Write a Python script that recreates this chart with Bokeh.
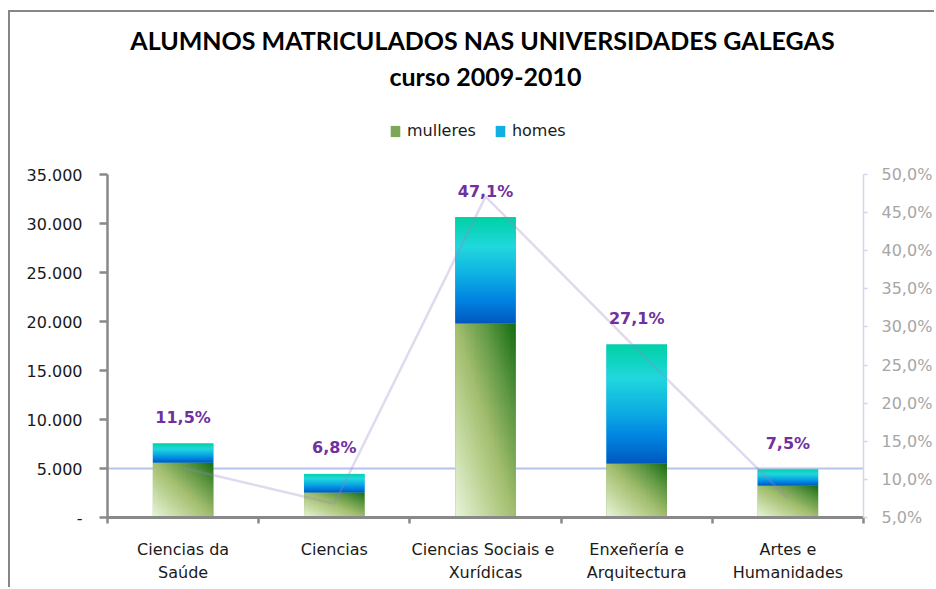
import numpy as np
from bokeh.plotting import figure
from bokeh.models import (Range1d, LinearAxis, FixedTicker, Span, Legend, LegendItem,
                          Title, CustomJSTickFormatter, ColumnDataSource)
from bokeh.embed import file_html
from bokeh.resources import INLINE
from bokeh.core.properties import value

# ---------------- data ----------------
categories = ["Ciencias da Saúde", "Ciencias", "Ciencias Sociais e Xurídicas",
              "Enxeñería e Arquitectura", "Artes e Humanidades"]
label_line1 = ["Ciencias da", "Ciencias", "Ciencias Sociais  e", "Enxeñería e", "Artes e"]
label_line2 = ["Saúde", "", "Xurídicas", "Arquitectura", "Humanidades"]
mulleres = [5600, 2550, 19800, 5500, 3250]
homes = [1950, 1900, 10850, 12150, 1650]
percent = [11.5, 6.8, 47.1, 27.1, 7.5]
percent_labels = ["11,5%", "6,8%", "47,1%", "27,1%", "7,5%"]
left_ticks = [0, 5000, 10000, 15000, 20000, 25000, 30000, 35000]
left_tick_labels = ["-", "5.000", "10.000", "15.000", "20.000", "25.000", "30.000", "35.000"]
right_ticks = [5, 10, 15, 20, 25, 30, 35, 40, 45, 50]
right_tick_labels = ["5,0%", "10,0%", "15,0%", "20,0%", "25,0%", "30,0%", "35,0%",
                     "40,0%", "45,0%", "50,0%"]
title_line1 = "ALUMNOS MATRICULADOS NAS UNIVERSIDADES  GALEGAS"
title_line2 = "curso 2009-2010"

n = len(categories)
centers = [i + 0.5 for i in range(n)]
totals = [m + h for m, h in zip(mulleres, homes)]
BAR_W = 0.4

FONT = "DejaVu Sans"
TFONT = "Lato"

# layout: the plotting frame is taller than the value axes so the legend fits in it
FRAME_TOP, FRAME_BOTTOM, AXIS_TOP = 80, 505, 162
frame_h = FRAME_BOTTOM - FRAME_TOP
axis_h = FRAME_BOTTOM - AXIS_TOP
left_lo, left_hi = left_ticks[0], left_ticks[-1]
right_lo, right_hi = right_ticks[0], right_ticks[-1]
left_end = left_lo + (left_hi - left_lo) * frame_h / axis_h
right_end = right_lo + (right_hi - right_lo) * frame_h / axis_h

# ---------------- gradient images ----------------
def pack(rgb):
    h, w, _ = rgb.shape
    img = np.empty((h, w), dtype=np.uint32)
    v = img.view(dtype=np.uint8).reshape((h, w, 4))
    v[:, :, :3] = np.clip(rgb, 0, 255).astype(np.uint8)
    v[:, :, 3] = 255
    return img

def interp(t, stops):
    pos = [s[0] for s in stops]
    out = np.zeros(t.shape + (3,))
    for c in range(3):
        out[..., c] = np.interp(t, pos, [s[1][c] for s in stops])
    return out

green_stops = [(0.0, (232, 245, 218)), (0.30, (190, 212, 150)), (0.5, (162, 190, 110)),
               (0.75, (95, 152, 68)), (1.0, (20, 108, 18))]
blue_stops = [(0.0, (0, 88, 192)), (0.22, (0, 132, 226)), (0.45, (14, 176, 226)),
              (0.72, (34, 216, 222)), (1.0, (0, 210, 165))]

GW, GH = 48, 200
uu, vv = np.meshgrid(np.linspace(0, 1, GW), np.linspace(0, 1, GH))
green_img = pack(interp((uu + vv) / 2.0, green_stops))
blue_img = pack(interp(vv, blue_stops))

# ---------------- figure ----------------
p = figure(width=926, height=577, x_range=Range1d(0, n), y_range=Range1d(left_lo, left_end),
           output_backend="svg", toolbar_location=None,
           min_border_left=97, min_border_right=73, min_border_bottom=72,
           min_border_top=FRAME_TOP)
p.extra_y_ranges = {"pct": Range1d(right_lo, right_end)}
p.title.visible = False
p.xgrid.visible = False
p.ygrid.visible = False
p.outline_line_color = None
p.background_fill_color = "white"
p.border_fill_color = "white"
p.styles = {"margin-left": "8px", "margin-top": "10px",
            "border-left": "2px solid #868686", "border-top": "2px solid #868686"}

# horizontal light-blue reference line
p.add_layout(Span(location=5000, dimension="width", line_color="#b4c4ea",
                  line_width=2, level="underlay"))

# stacked bars: flat-coloured base bars (also used by the legend) ...
src = ColumnDataSource(data=dict(x=centers, mulleres=mulleres, homes=homes))
r_m, r_h = p.vbar_stack(["mulleres", "homes"], x="x", width=BAR_W, source=src,
                        fill_color=["#7aa858", "#12b0e2"], line_color=None)
# ... covered by gradient fills of exactly the same extent
p.image_rgba(image=[green_img] * n, x=[c - BAR_W / 2 for c in centers], y=[0] * n,
             dw=[BAR_W] * n, dh=mulleres)
p.image_rgba(image=[blue_img] * n, x=[c - BAR_W / 2 for c in centers], y=mulleres,
             dw=[BAR_W] * n, dh=homes)

# percentage line on secondary axis
p.line(x=centers, y=percent, y_range_name="pct", line_color="#9a80c8",
       line_alpha=0.3, line_width=2.5)

# percentage labels
p.text(x=centers, y=totals, text=percent_labels, y_offset=-26,
       text_align="center", text_baseline="middle", text_color="#7030a0",
       text_font=value(FONT), text_font_style="bold", text_font_size="16px")

legend = Legend(items=[LegendItem(label="mulleres", renderers=[r_m]),
                       LegendItem(label="homes", renderers=[r_h])],
                orientation="horizontal", location=(282, 377),
                border_line_color=None, background_fill_alpha=0,
                label_text_font=FONT, label_text_font_size="16px", label_text_color="#1a1a1a",
                glyph_width=12, glyph_height=14, label_standoff=6, spacing=18,
                padding=0, margin=0)
p.add_layout(legend, "center")

p.add_layout(Title(text=title_line2, align="center", text_font=TFONT,
                   text_font_size="25px", text_font_style="bold", text_color="#000000",
                   standoff=4, offset=-8), "above")
p.add_layout(Title(text=title_line1, align="center", text_font=TFONT,
                   text_font_size="25px", text_font_style="bold", text_color="#000000",
                   standoff=4, offset=-8), "above")

# ---------------- axes ----------------
LABEL_JS = "return labels[Math.round(tick - 0.5)] || '';"
LOOKUP_JS = "const i = tick_vals.indexOf(tick); return i >= 0 ? tick_texts[i] : '';"

AX = "#898989"
xa = p.xaxis[0]
xa.ticker = FixedTicker(ticks=centers, minor_ticks=list(range(n + 1)))
xa.formatter = CustomJSTickFormatter(args=dict(labels=label_line1), code=LABEL_JS)
xa.axis_line_color = AX
xa.axis_line_width = 3
xa.major_tick_line_color = None
xa.major_tick_out = 0
xa.major_tick_in = 0
xa.minor_tick_line_color = AX
xa.minor_tick_line_width = 2.5
xa.minor_tick_out = 6
xa.minor_tick_in = 0
xa.major_label_standoff = 16
xa.major_label_text_font = FONT
xa.major_label_text_font_size = "16px"
xa.major_label_text_color = "#1a1a1a"

xa2 = LinearAxis(ticker=FixedTicker(ticks=centers, minor_ticks=[]),
                 formatter=CustomJSTickFormatter(args=dict(labels=label_line2), code=LABEL_JS))
xa2.axis_line_color = None
xa2.major_tick_line_color = None
xa2.minor_tick_line_color = None
xa2.major_tick_out = 0
xa2.major_tick_in = 0
xa2.major_label_standoff = 1
xa2.major_label_text_font = FONT
xa2.major_label_text_font_size = "16px"
xa2.major_label_text_color = "#1a1a1a"
p.add_layout(xa2, "below")

ya = p.yaxis[0]
ya.bounds = (left_lo, left_hi)
ya.ticker = FixedTicker(ticks=left_ticks, minor_ticks=[])
ya.formatter = CustomJSTickFormatter(args=dict(tick_vals=left_ticks, tick_texts=left_tick_labels),
                                     code=LOOKUP_JS)
ya.axis_line_color = AX
ya.axis_line_width = 2.5
ya.major_tick_line_color = AX
ya.major_tick_line_width = 2.5
ya.major_tick_out = 8
ya.major_tick_in = 0
ya.minor_tick_line_color = None
ya.major_label_standoff = 17
ya.major_label_text_font = FONT
ya.major_label_text_font_size = "16px"
ya.major_label_text_color = "#1a1a1a"

yr = LinearAxis(y_range_name="pct", bounds=(right_lo, right_hi),
                ticker=FixedTicker(ticks=right_ticks, minor_ticks=[]),
                formatter=CustomJSTickFormatter(args=dict(tick_vals=right_ticks,
                                                          tick_texts=right_tick_labels),
                                                code=LOOKUP_JS))
yr.axis_line_color = "#ddd0ee"
yr.axis_line_width = 1.5
yr.major_tick_line_color = "#ddd0ee"
yr.major_tick_line_width = 1.5
yr.major_tick_out = 4
yr.major_tick_in = 0
yr.minor_tick_line_color = None
yr.major_label_standoff = 14
yr.major_label_text_font = FONT
yr.major_label_text_font_size = "16px"
yr.major_label_text_color = "#a6a6a6"
p.add_layout(yr, "right")

open("out.html", "w").write(file_html(p, INLINE))
